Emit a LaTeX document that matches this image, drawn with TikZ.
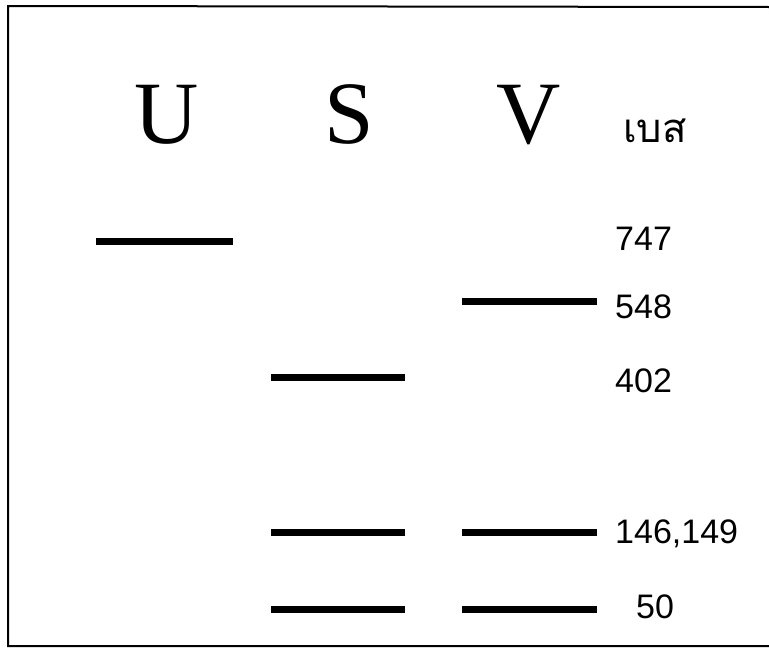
\documentclass[tikz,border=0pt]{standalone}
\usepackage{fontspec}
\setmainfont{Liberation Serif}
\newfontfamily\numfont{Liberation Sans}
\newfontfamily\thaifont[Script=Thai]{Loma}
\begin{document}
\begin{tikzpicture}[x=1pt,y=-1pt,
  level/.style={line width=7pt},
  head/.style={inner sep=0pt,anchor=base,font=\fontsize{89}{89}\selectfont},
  val/.style={inner sep=0pt,anchor=base west,font=\numfont\fontsize{34}{34}\selectfont}]
\useasboundingbox (0,0) rectangle (769,648);
% frame (open on the right)
\draw[line width=2pt] (769,7) -- (8,6) -- (8,646) -- (769,646);
% column heads
\node[head] (hU) at (167,143) {U};
\node[head] (hS) at (349,143) {S};
\node[head] (hV) at (529,143) {V};
\node[inner sep=0pt,anchor=base west,font=\thaifont\fontsize{40}{40}\selectfont] (unit) at (623,142) {เบส};
% energy levels
\draw[level] (96,241) -- (233,241);
\draw[level] (462,301) -- (597,301);
\draw[level] (271,377) -- (405,377);
\draw[level] (271,532) -- (405,532);
\draw[level] (462,532) -- (597,532);
\draw[level] (271,609) -- (405,609);
\draw[level] (462,609) -- (597,609);
% values
\node[val] (v747) at (615,250) {747};
\node[val] (v548) at (615,318) {548};
\node[val] (v402) at (615,392) {402};
\node[val] (v146) at (615,543) {146,149};
\node[val] (v50) at (636,618) {50};
\end{tikzpicture}
\end{document}
